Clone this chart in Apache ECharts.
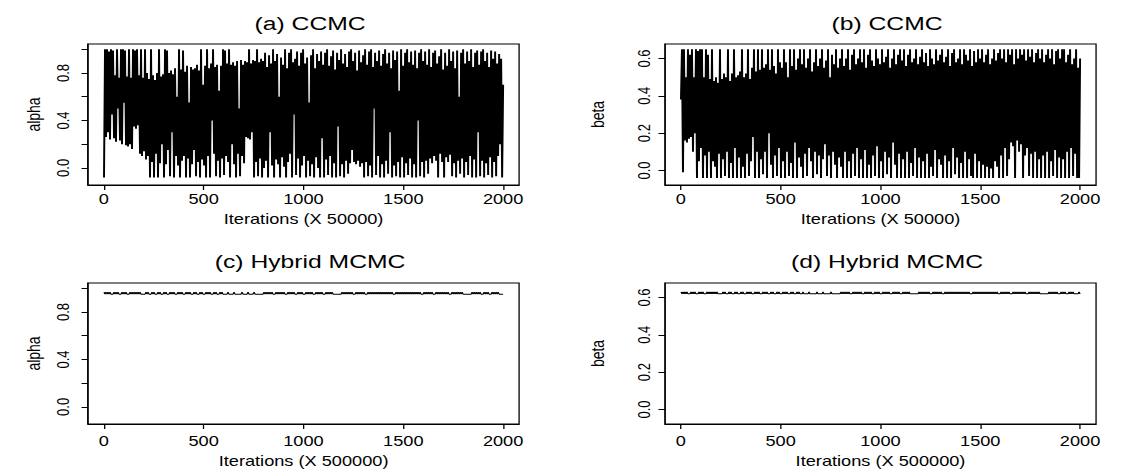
<!DOCTYPE html>
<html><head><meta charset="utf-8">
<script src="https://cdn.jsdelivr.net/npm/echarts@6/dist/echarts.min.js"></script>
<style>
html,body{margin:0;padding:0;background:#fff;overflow:hidden}
#wrap{width:1130px;height:470px;overflow:hidden}
#c{width:869px;height:470px;transform:scaleX(1.30034);transform-origin:0 0}
</style></head><body><div id="wrap"><div id="c"></div></div>
<script>
const xTicks=[0,500,1000,1500,2000];
const alphaTicks=[0,0.2,0.4,0.6,0.8,1.0];
const alphaLabels=[0,0.4,0.8];
const betaTicks=[0,0.2,0.4,0.6];
const betaLabels=[0,0.2,0.4,0.6];
const titles=['(a) CCMC','(b) CCMC','(c) Hybrid MCMC','(d) Hybrid MCMC'];
const xNames=['Iterations (X 50000)','Iterations (X 50000)','Iterations (X 500000)','Iterations (X 500000)'];
const yNames=['alpha','beta','alpha','beta'];

// CCMC alpha trace, read every ~5 iterations
const ccmcAlpha=[
-.08,1,.26,1,.3,.98,.24,1,.45,.99,.25,.78,.22,1,.5,.76,.23,1,.2,1,
.55,.99,.19,.77,.18,1,.2,.76,.16,1,.35,.99,.33,1,.36,.78,.12,1,.1,.76,
.14,1,.07,.8,.1,.75,-.08,1,.05,.78,-.08,.74,.12,.8,-.08,1,.04,.77,.2,.79,
-.08,1,.03,.99,.15,.8,-.07,.82,.3,.79,-.08,.84,.1,.6,.02,1,-.08,.83,.06,.99,
.1,.81,-.08,.86,.08,.55,-.08,.85,.03,.83,.15,.84,-.07,.87,.05,.82,-.08,1,.07,.7,
.02,.86,-.08,1,.1,.84,-.08,.88,.4,1,.12,.85,-.07,.87,.06,.65,-.08,.86,.08,1,
-.06,.99,.1,.88,.05,1,-.08,.87,.2,.89,.03,.86,-.08,.9,.12,.5,-.07,.91,.1,.87,
.04,.9,.26,.89,.25,1,.24,.88,.3,.91,-.08,.9,.05,1,-.07,.89,.08,.92,-.08,.9,
0,.97,.06,.85,-.08,.95,.3,.88,.02,1,-.08,.9,.07,.96,.03,.6,-.08,.93,.09,.87,
.01,1,-.08,.84,.05,.97,.12,1,-.08,.89,.45,.92,-.06,.98,.08,.86,-.08,.97,.02,1,
.1,.88,-.08,.93,.06,.55,-.07,.95,.03,1,-.08,.84,.09,.96,0,.9,-.08,.98,.25,.87,
-.08,.97,.07,1,-.06,.86,.1,.94,-.08,.99,.04,.83,-.08,.97,.35,.91,-.07,1,.03,.88,
-.08,.96,.06,.85,-.05,.98,.04,1,.15,.9,.05,.97,.03,.82,.06,.99,.01,.89,.04,.95,
-.08,1,.05,.87,-.07,.98,.02,1,-.08,.85,.5,.97,-.06,.9,.1,.99,-.08,.86,.03,.96,
-.08,1,.06,.88,-.05,.97,.3,.84,-.08,.99,.02,.91,-.07,.98,.05,.65,-.08,1,.09,.86,
-.08,.97,.04,1,-.06,.89,.08,.98,-.08,.87,.03,.99,-.08,.84,.4,.97,-.07,1,.05,.9,
-.08,.98,.06,.87,-.05,1,.08,.85,.04,.97,.1,.99,.06,.88,-.08,.94,.12,1,.05,.83,
-.08,.97,.09,.86,.05,1,.11,.9,-.07,.98,.04,.84,-.08,.99,.06,.6,-.05,.97,.08,1,
-.08,.88,.05,.98,-.06,.9,.1,1,-.08,.85,.07,.97,-.08,.99,.3,.87,-.07,.98,.06,1,
-.08,.9,.04,.97,-.06,.85,.09,.99,-.08,.92,.05,.98,-.07,.88,.1,.96,.2,.92,-.08,.7
];
// CCMC beta trace, read every ~5 iterations
const ccmcBeta=[
.38,.65,-.01,.65,.16,.5,.15,.65,.17,.62,.18,.65,.1,.5,.2,.65,-.04,.64,.05,.65,
.12,.65,-.04,.5,.08,.65,-.04,.62,.1,.49,-.04,.65,.05,.48,.02,.5,-.04,.47,.09,.65,
-.04,.49,.06,.52,-.03,.5,.1,.65,-.04,.48,.04,.52,-.04,.65,.12,.5,-.04,.51,.07,.53,
-.04,.65,.02,.5,-.04,.52,.09,.65,-.03,.49,.05,.55,.18,.65,-.04,.53,.1,.65,-.04,.54,
.06,.65,-.02,.55,.1,.57,-.04,.65,.2,.54,.03,.65,-.04,.56,.08,.52,-.03,.65,.12,.58,
-.04,.55,.05,.65,-.04,.58,.1,.5,-.03,.65,.04,.56,-.04,.65,.15,.54,-.04,.6,.07,.65,
.02,.57,-.04,.65,.09,.55,-.03,.6,.12,.65,.05,.53,-.04,.58,.1,.65,-.02,.56,.08,.6,
-.04,.65,.06,.55,.14,.59,-.03,.65,.08,.5,-.04,.62,.1,.57,.03,.65,-.04,.55,.07,.6,
.02,.65,-.04,.56,.1,.6,-.04,.65,.05,.54,-.04,.62,.09,.65,-.03,.57,.12,.6,-.04,.65,
.06,.58,-.04,.65,.11,.55,-.04,.62,.03,.65,-.04,.59,.08,.56,-.03,.65,.13,.6,-.04,.57,
.05,.65,-.04,.58,.1,.61,-.02,.65,.07,.55,-.04,.6,.15,.65,.03,.57,-.04,.62,.09,.65,
-.04,.59,.06,.65,-.04,.56,.1,.62,-.04,.65,.04,.58,-.03,.6,.12,.65,-.04,.57,.07,.61,
-.04,.65,.05,.58,-.04,.63,.09,.56,-.04,.65,.02,.6,-.03,.57,.11,.65,-.04,.59,.06,.62,
.03,.65,-.04,.58,.08,.61,-.04,.65,.05,.56,-.04,.63,.12,.65,-.02,.58,.07,.6,-.04,.65,
.04,.57,-.04,.65,.1,.62,-.04,.59,.06,.65,-.03,.56,-.04,.64,.09,.58,-.04,.65,.05,.6,
-.04,.65,.03,.58,-.04,.62,.02,.65,-.04,.57,.01,.6,-.04,.65,.05,.59,.02,.63,-.04,.65,
.08,.6,-.04,.65,.12,.58,-.03,.65,.06,.62,.15,.65,.13,.57,-.04,.65,.16,.6,.1,.65,
.14,.62,-.04,.65,.08,.59,.12,.65,-.03,.61,.09,.65,-.04,.58,.1,.63,-.04,.65,.06,.6,
-.04,.65,.08,.58,-.04,.62,.1,.65,-.04,.6,.05,.65,-.03,.57,.11,.64,-.04,.65,.07,.6,
-.04,.65,.06,.65,-.04,.58,.1,.62,-.04,.65,.12,.57,-.03,.6,.09,.65,-.04,.55,-.04,.6
];
// Hybrid MCMC alpha trace, read every ~5 iterations
const hybridAlpha=[
.966,.95,.966,.95,.966,.95,.966,.95,.95,.95,.966,.95,.966,.95,.966,.95,.95,.95,.966,.95,
.966,.95,.966,.95,.95,.95,.966,.95,.966,.95,.966,.95,.966,.95,.966,.95,.966,.95,.95,.95,
.95,.95,.966,.95,.966,.95,.95,.95,.966,.95,.966,.95,.95,.95,.966,.95,.966,.95,.95,.95,
.966,.95,.966,.95,.95,.95,.966,.95,.966,.95,.966,.95,.95,.95,.966,.95,.966,.95,.966,.95,
.95,.95,.966,.95,.966,.95,.966,.95,.95,.95,.966,.95,.966,.95,.95,.95,.966,.95,.966,.95,
.95,.95,.966,.95,.966,.95,.966,.95,.95,.95,.966,.95,.966,.95,.95,.95,.966,.95,.966,.95,
.95,.95,.95,.95,.966,.95,.95,.95,.95,.95,.966,.95,.95,.95,.95,.95,.95,.95,.966,.95,
.95,.95,.95,.95,.966,.95,.95,.95,.95,.95,.966,.95,.95,.95,.95,.95,.95,.95,.95,.95,
.966,.95,.966,.95,.966,.95,.966,.95,.966,.95,.95,.95,.966,.95,.966,.95,.966,.95,.966,.95,
.966,.95,.95,.95,.966,.95,.966,.95,.966,.95,.966,.95,.95,.95,.966,.95,.966,.95,.966,.95,
.95,.95,.966,.95,.966,.95,.966,.95,.966,.95,.95,.95,.966,.95,.966,.95,.966,.95,.966,.95,
.95,.95,.966,.95,.966,.95,.966,.95,.966,.95,.95,.95,.95,.95,.95,.95,.95,.95,.966,.95,
.966,.95,.966,.95,.966,.95,.966,.95,.966,.95,.95,.95,.966,.95,.966,.95,.966,.95,.966,.95,
.966,.95,.95,.95,.966,.95,.966,.95,.966,.95,.966,.95,.966,.95,.966,.95,.966,.95,.966,.95,
.966,.95,.966,.95,.966,.95,.966,.95,.966,.95,.95,.95,.966,.95,.966,.95,.966,.95,.966,.95,
.966,.95,.966,.95,.966,.95,.966,.95,.966,.95,.966,.95,.966,.95,.966,.95,.966,.95,.95,.95,
.966,.95,.966,.95,.966,.95,.966,.95,.966,.95,.95,.95,.966,.95,.966,.95,.966,.95,.966,.95,
.966,.95,.966,.95,.966,.95,.95,.95,.966,.95,.966,.95,.966,.95,.966,.95,.966,.95,.966,.95,
.95,.95,.95,.95,.95,.95,.95,.95,.966,.95,.966,.95,.966,.95,.966,.95,.966,.95,.95,.95,
.966,.95,.966,.95,.966,.95,.95,.95,.966,.95,.966,.95,.966,.95,.966,.95,.95,.95,.95,.95
];
// Hybrid MCMC beta trace, read every ~5 iterations
const hybridBeta=[
.63,.62,.63,.62,.63,.62,.63,.62,.62,.62,.63,.62,.63,.62,.63,.62,.62,.62,.63,.62,
.63,.62,.63,.62,.62,.62,.63,.62,.63,.62,.63,.62,.63,.62,.63,.62,.63,.62,.62,.62,
.62,.62,.63,.62,.63,.62,.62,.62,.63,.62,.63,.62,.62,.62,.63,.62,.63,.62,.62,.62,
.63,.62,.63,.62,.62,.62,.63,.62,.63,.62,.63,.62,.62,.62,.63,.62,.63,.62,.63,.62,
.62,.62,.63,.62,.63,.62,.63,.62,.62,.62,.63,.62,.63,.62,.62,.62,.63,.62,.63,.62,
.62,.62,.63,.62,.63,.62,.63,.62,.62,.62,.63,.62,.63,.62,.62,.62,.63,.62,.63,.62,
.62,.62,.63,.62,.62,.62,.62,.62,.63,.62,.62,.62,.62,.62,.62,.62,.63,.62,.62,.62,
.62,.62,.63,.62,.62,.62,.62,.62,.62,.62,.63,.62,.62,.62,.62,.62,.62,.62,.62,.62,
.63,.62,.63,.62,.63,.62,.63,.62,.63,.62,.62,.62,.63,.62,.63,.62,.63,.62,.63,.62,
.63,.62,.62,.62,.63,.62,.63,.62,.63,.62,.63,.62,.62,.62,.63,.62,.63,.62,.63,.62,
.62,.62,.63,.62,.63,.62,.63,.62,.63,.62,.62,.62,.63,.62,.63,.62,.63,.62,.63,.62,
.62,.62,.63,.62,.63,.62,.63,.62,.63,.62,.62,.62,.62,.62,.62,.62,.62,.62,.63,.62,
.63,.62,.63,.62,.63,.62,.63,.62,.63,.62,.62,.62,.63,.62,.63,.62,.63,.62,.63,.62,
.63,.62,.62,.62,.63,.62,.63,.62,.63,.62,.63,.62,.63,.62,.63,.62,.63,.62,.63,.62,
.63,.62,.63,.62,.63,.62,.63,.62,.63,.62,.62,.62,.63,.62,.63,.62,.63,.62,.63,.62,
.63,.62,.63,.62,.63,.62,.63,.62,.63,.62,.63,.62,.63,.62,.63,.62,.63,.62,.62,.62,
.63,.62,.63,.62,.63,.62,.63,.62,.63,.62,.62,.62,.63,.62,.63,.62,.63,.62,.63,.62,
.63,.62,.63,.62,.63,.62,.62,.62,.63,.62,.63,.62,.63,.62,.63,.62,.63,.62,.63,.62,
.62,.62,.62,.62,.62,.62,.62,.62,.63,.62,.63,.62,.63,.62,.63,.62,.63,.62,.62,.62,
.63,.62,.63,.62,.63,.62,.62,.62,.63,.62,.63,.62,.63,.62,.62,.62,.62,.62,.63,.62
];

const seriesData=[ccmcAlpha,ccmcBeta,hybridAlpha,hybridBeta];
function toXY(arr){const n=arr.length;return arr.map((v,i)=>[1+i*1999/(n-1),v]);}

// layout (in unscaled chart coordinates; container is stretched horizontally)
const grids=[
 {left:67.7,top:44,width:331.5,height:141},
 {left:511.4,top:44,width:331.5,height:141},
 {left:67.7,top:283,width:331.5,height:141},
 {left:511.4,top:283,width:331.5,height:141}
];
const yRanges=[[-0.144,1.044],[-0.078,0.678],[-0.144,1.044],[-0.078,0.678]];
const yTickSets=[alphaTicks,betaTicks,alphaTicks,betaTicks];
const yLabelSets=[alphaLabels,betaLabels,alphaLabels,betaLabels];
const yNameGaps=[35,45,35,45];
const yLabelMargins=[13,10,13,10];
const xLabelMargins=[7,7,10,10];
const xNameGaps=[27,27,30,30];
const lineWidths=[1.5,1.5,1,1];
const titleTops=[9,247];

const chart=echarts.init(document.getElementById('c'),null,{renderer:'svg',width:869,height:470});
const FONT='"Liberation Sans", Arial, Helvetica, sans-serif';
const axisLineStyle={show:true,onZero:false,lineStyle:{color:'#000',width:1}};
const option={
 animation:false,
 backgroundColor:'#fff',
 title:titles.map((t,i)=>({text:t,left:grids[i].left+grids[i].width/2,top:titleTops[i<2?0:1],textAlign:'center',
   textStyle:{fontFamily:FONT,fontSize:19,fontWeight:'normal',color:'#000'}})),
 grid:grids.map(g=>Object.assign({show:true,borderColor:'#000',borderWidth:1,backgroundColor:'transparent',containLabel:false,outerBoundsMode:'none'},g)),
 xAxis:grids.map((g,i)=>({type:'value',gridIndex:i,min:-79,max:2080,position:'bottom',
   name:xNames[i],nameLocation:'middle',nameGap:xNameGaps[i],
   nameTextStyle:{fontFamily:FONT,fontSize:14,color:'#000'},
   axisLine:axisLineStyle,splitLine:{show:false},
   axisTick:{show:true,inside:false,customValues:xTicks,length:5,lineStyle:{color:'#000',width:1}},
   axisLabel:{customValues:xTicks,margin:xLabelMargins[i],fontFamily:FONT,fontSize:14,color:'#000',
     formatter:v=>String(v)}})),
 yAxis:grids.map((g,i)=>({type:'value',gridIndex:i,min:yRanges[i][0],max:yRanges[i][1],position:'left',
   name:yNames[i],nameLocation:'middle',nameGap:yNameGaps[i],nameRotate:90,
   nameTextStyle:{fontFamily:FONT,fontSize:14,color:'#000'},
   axisLine:axisLineStyle,splitLine:{show:false},
   axisTick:{show:true,inside:false,customValues:yTickSets[i],length:5,lineStyle:{color:'#000',width:1}},
   axisLabel:{customValues:yLabelSets[i],rotate:90,margin:yLabelMargins[i],fontFamily:FONT,fontSize:13,color:'#000',
     formatter:v=>Number(v).toFixed(1)}})),
 series:seriesData.map((d,i)=>({type:'line',xAxisIndex:i,yAxisIndex:i,data:toXY(d),showSymbol:false,symbol:'none',
   silent:true,sampling:null,clip:true,lineStyle:{color:'#000',width:lineWidths[i]},emphasis:{disabled:true}}))
};
chart.setOption(option);
</script></body></html>
